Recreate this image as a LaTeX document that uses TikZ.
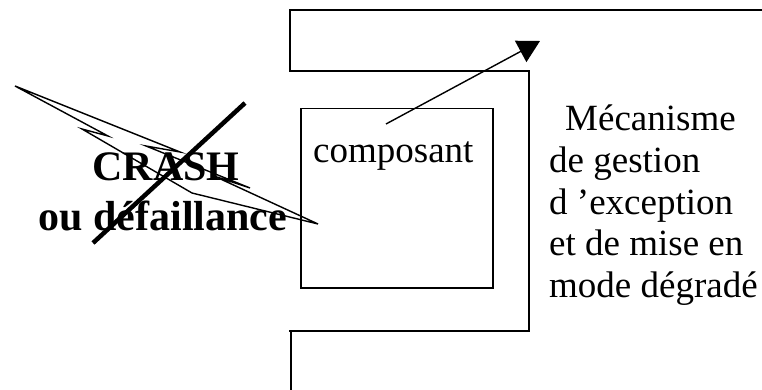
\documentclass[tikz,border=0pt]{standalone}
\usepackage{fontspec}
\setmainfont{Liberation Serif}
\usetikzlibrary{arrows.meta}
\begin{document}
\begin{tikzpicture}[x=1pt,y=-1pt,
  frame/.style={line width=1.5pt},
  regtext/.style={inner sep=0pt,anchor=base west,font=\fontsize{37}{37}\selectfont},
  boldtext/.style={inner sep=0pt,anchor=base,font=\fontsize{42}{42}\selectfont\bfseries},
  bolt/.style={line width=1.4pt,line join=miter},
  cross/.style={line width=4.5pt}]
\useasboundingbox (0,0) rectangle (762,390);
% texts under the bolt
\node[boldtext] (crash) at (166,180) {CRASH};
\node[boldtext] (defa) at (163,230) {ou défaillance};
% outer frame
\coordinate (f1) at (770,10);
\coordinate (f2) at (290,10);
\coordinate (f3) at (290,71);
\coordinate (f4) at (529,71);
\coordinate (f5) at (529,331);
\coordinate (f6) at (289,331);
\coordinate (f7) at (291,400);
\draw[frame] (f1) -- (f2) -- (f3) -- (f4) -- (f5) -- (f6) -| (f7);
% component box
\node[frame,draw,minimum width=192pt,minimum height=179pt,inner sep=0pt,anchor=north west] (comp) at (300,108) {};
\node[regtext] (comptext) at (313,163) {composant};
% arrow
\coordinate (as) at (386,124);
\coordinate (ae) at (540,41);
\draw[line width=1.4pt,-{Triangle[length=22pt,width=24pt]}] (as) -- (ae);
% right text
\node[regtext] (t1) at (565,131) {Mécanisme};
\node[regtext] (t2) at (549,172) {de gestion};
\node[regtext] (t3) at (549,214) {d ’exception};
\node[regtext] (t4) at (549,255) {et de mise en};
\node[regtext] (t5) at (549,297) {mode dégradé};
% lightning bolt
\draw[bolt] (15,86) -- (180,152) -- (146,146) -- (250,188) -- (214,176) -- (318,224)
  -- (192,193) -- (82,129) -- (108,136) -- cycle;
% cross line
\coordinate (c1) at (93,243);
\coordinate (c2) at (245,103);
\draw[cross] (c1) -- (c2);
\end{tikzpicture}
\end{document}
